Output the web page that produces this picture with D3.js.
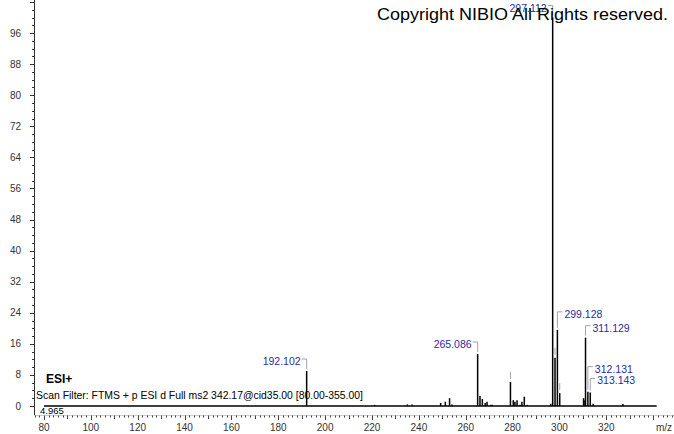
<!DOCTYPE html>
<html>
<head>
<meta charset="utf-8">
<script src="https://cdn.jsdelivr.net/npm/d3@7"></script>
<style>
  html, body { margin: 0; padding: 0; background: #fff; }
  text { font-family: "Liberation Sans", Arial, sans-serif; }
</style>
</head>
<body>
<div id="chart"></div>
<script>
let width = 674,
	height = 434;

// centroid peaks (m/z, relative abundance)
const mz = [192.102, 221.1, 235.1, 237.1, 249.3, 251.3, 253.1, 254.1,
	265.086, 266.09, 267.1, 268.3, 269.1, 270.6, 271.2,
	279.09, 280.3, 281.0, 281.9, 283.2, 284.0, 285.0, 286.3,
	296.3, 297.112, 298.115, 299.128, 300.12,
	310.3, 310.9, 311.129, 312.131, 313.143, 314.4, 327.1];
const abundance = [9.0, 0.3, 0.4, 0.4, 0.8, 1.1, 2.0, 0.4,
	13.4, 2.6, 1.8, 0.8, 1.1, 0.3, 0.3,
	6.2, 1.5, 1.1, 1.5, 0.3, 1.1, 2.4, 0.3,
	0.6, 100, 12.4, 19.6, 3.3,
	2.0, 1.5, 17.6, 3.7, 3.5, 0.6, 0.5];

// labelled peaks and unlabelled flags
const labelled = [192.102, 265.086, 297.112, 299.128, 311.129, 312.131, 313.143];
const flagged = [279.09, 298.115, 300.12];

const scanRange = [80, 341.5];
const xTickLabels = [80, 100, 120, 140, 160, 180, 200, 220, 240, 260, 280, 300, 320];
const yTickLabels = [0, 8, 16, 24, 32, 40, 48, 56, 64, 72, 80, 88, 96];

// label layout: side and rise above the peak top
const labelLayout = {
	192.102: {side: 'left', rise: 12},
	265.086: {side: 'left', rise: 12},
	297.112: {side: 'left', rise: 12},
	299.128: {side: 'right', rise: 18},
	311.129: {side: 'right', rise: 12},
	312.131: {side: 'right', rise: 25},
	313.143: {side: 'right', rise: 14}
};

let x = d3.scaleLinear().domain([80, 320]).range([44, 606.3]);
let y = d3.scaleLinear().domain([0, 100]).range([406, 17.5]);

let svg = d3.select('#chart').append('svg').attr('width', width).attr('height', height);

// y axis
svg.append('line').attr('x1', 34.5).attr('x2', 34.5).attr('y1', 0).attr('y2', 415)
	.attr('stroke', '#333').attr('stroke-width', 1);
svg.append('g').selectAll('line').data(d3.range(0, 105, 2)).enter().append('line')
	.attr('x1', d => d % 8 === 0 ? 30 : 32).attr('x2', 34)
	.attr('y1', d => Math.round(y(d)) + 0.5).attr('y2', d => Math.round(y(d)) + 0.5)
	.attr('stroke', '#333');
svg.append('g').selectAll('text').data(yTickLabels).enter().append('text')
	.attr('x', 21).attr('y', d => y(d) + 3.5)
	.attr('text-anchor', 'end').attr('font-size', 10).attr('fill', '#333')
	.text(d => d);

// x axis (ticks only)
svg.append('g').selectAll('line').data(d3.range(76, 356, 2)).enter().append('line')
	.attr('x1', d => Math.round(x(d)) + 0.5).attr('x2', d => Math.round(x(d)) + 0.5)
	.attr('y1', 415).attr('y2', d => d % 20 === 0 ? 420 : (d % 10 === 0 ? 419 : 417.5))
	.attr('stroke', '#444');
svg.append('line').attr('x1', 34).attr('x2', 674).attr('y1', 415.5).attr('y2', 415.5)
	.attr('stroke', '#aaa').attr('stroke-width', 0.6);
svg.append('g').selectAll('text').data(xTickLabels).enter().append('text')
	.attr('x', d => x(d)).attr('y', 431)
	.attr('text-anchor', 'middle').attr('font-size', 10).attr('fill', '#333')
	.text(d => d);
svg.append('text').attr('x', 656).attr('y', 431).attr('font-size', 10).attr('fill', '#333').text('m/z');

// spectrum baseline and sticks
svg.append('line').attr('x1', x(scanRange[0])).attr('x2', x(scanRange[1]))
	.attr('y1', y(0)).attr('y2', y(0)).attr('stroke', '#000').attr('stroke-width', 1.3);

let peaks = mz.map((m, i) => ({mz: m, ab: abundance[i]}));
svg.append('g').selectAll('line').data(peaks).enter().append('line')
	.attr('x1', d => x(d.mz)).attr('x2', d => x(d.mz))
	.attr('y1', y(0)).attr('y2', d => y(d.ab))
	.attr('stroke', '#000').attr('stroke-width', 1.5);

// flags over unlabelled peaks
let flagData = peaks.filter(d => flagged.includes(d.mz));
svg.append('g').selectAll('line').data(flagData).enter().append('line')
	.attr('x1', d => x(d.mz)).attr('x2', d => x(d.mz))
	.attr('y1', d => y(d.ab) - 10).attr('y2', d => y(d.ab) - 3)
	.attr('stroke', '#a0a0b8').attr('stroke-width', 1);

// peak labels with brackets
let labData = peaks.filter(d => labelled.includes(d.mz));
let lab = svg.append('g').selectAll('g').data(labData).enter().append('g');
lab.append('path')
	.attr('d', d => {
		let px = x(d.mz), top = y(d.ab), L = labelLayout[d.mz];
		let by = top - L.rise;
		let hx = L.side === 'left' ? px - 5 : px + 5;
		return `M${hx},${by}H${px}V${top - 2}`;
	})
	.attr('fill', 'none').attr('stroke', '#a0a0b8').attr('stroke-width', 1);
lab.append('text')
	.attr('x', d => labelLayout[d.mz].side === 'left' ? x(d.mz) - 6 : x(d.mz) + 7)
	.attr('y', d => y(d.ab) - labelLayout[d.mz].rise + 6)
	.attr('text-anchor', d => labelLayout[d.mz].side === 'left' ? 'end' : 'start')
	.attr('font-size', 10.5).attr('fill', '#2b2ba0')
	.text(d => d.mz.toFixed(3));

// annotations
svg.append('text').attr('x', 46).attr('y', 383).attr('font-size', 12).attr('font-weight', 'bold')
	.attr('fill', '#000').text('ESI+');
svg.append('text').attr('x', 36).attr('y', 399).attr('font-size', 10.5).attr('fill', '#000')
	.attr('textLength', 327).attr('lengthAdjust', 'spacingAndGlyphs')
	.text('Scan Filter: FTMS + p ESI d Full ms2 342.17@cid35.00 [80.00-355.00]');
svg.append('text').attr('x', 40).attr('y', 414).attr('font-size', 9.5).attr('fill', '#000').text('4.965');
svg.append('text').attr('x', 377).attr('y', 20).attr('font-size', 17).attr('fill', '#000')
	.attr('textLength', 291).attr('lengthAdjust', 'spacingAndGlyphs')
	.text('Copyright NIBIO All Rights reserved.');
</script>
</body>
</html>
